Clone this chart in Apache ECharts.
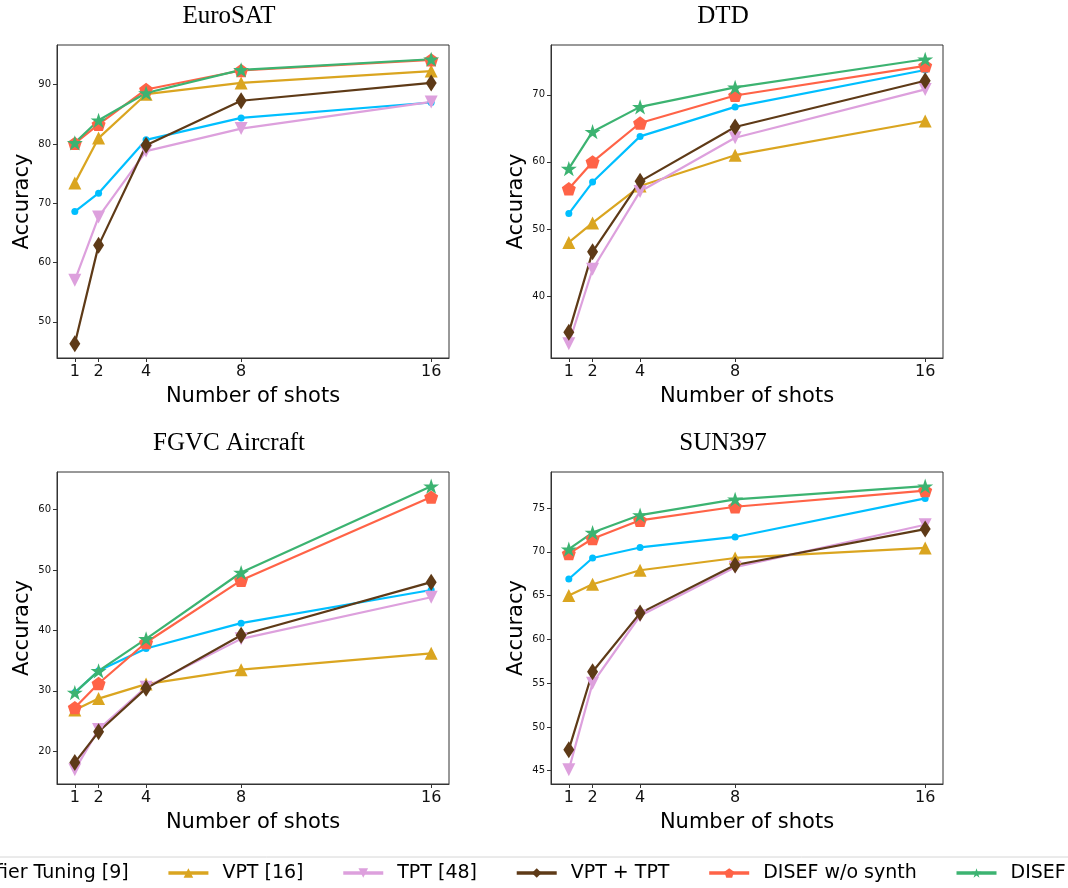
<!DOCTYPE html>
<html>
<head>
<meta charset="utf-8">
<script src="https://cdn.jsdelivr.net/npm/echarts@6/dist/echarts.min.js"></script>
<style>
html,body{margin:0;padding:0;background:#fff;}
#chart{width:1068px;height:888px;}
</style>
</head>
<body>
<div id="chart"></div>
<script>
// ---------- data ----------
const shots = [1, 2, 4, 8, 16];
const xTicks = [1, 2, 4, 8, 16];
const methodNames = ['Classifier Tuning [9]', 'VPT [16]', 'TPT [48]', 'VPT + TPT', 'DISEF w/o synth', 'DISEF'];
const panelTitles = ['EuroSAT', 'DTD', 'FGVC Aircraft', 'SUN397'];

// EuroSAT
const eurosatClf    = [68.6, 71.7, 80.7, 84.4, 87.0];
const eurosatVpt    = [73.4, 81.0, 88.4, 90.3, 92.3];
const eurosatTpt    = [57.0, 67.7, 78.8, 82.6, 87.1];
const eurosatVptTpt = [46.3, 62.9, 79.8, 87.3, 90.3];
const eurosatWo     = [80.1, 83.3, 89.2, 92.4, 94.2];
const eurosatDisef  = [80.2, 84.0, 88.6, 92.5, 94.3];
const eurosatYTicks = [50, 60, 70, 80, 90];

// DTD
const dtdClf    = [52.3, 57.0, 63.8, 68.2, 73.7];
const dtdVpt    = [48.0, 50.9, 56.4, 61.0, 66.1];
const dtdTpt    = [32.9, 44.0, 55.6, 63.6, 70.8];
const dtdVptTpt = [34.6, 46.6, 57.1, 65.2, 72.1];
const dtdWo     = [56.0, 60.0, 65.8, 69.9, 74.3];
const dtdDisef  = [59.0, 64.5, 68.2, 71.1, 75.3];
const dtdYTicks = [40, 50, 60, 70];

// FGVC Aircraft
const fgvcClf    = [29.7, 33.3, 37.0, 41.2, 46.7];
const fgvcVpt    = [26.8, 28.7, 31.1, 33.5, 36.2];
const fgvcTpt    = [16.9, 23.6, 30.6, 38.6, 45.5];
const fgvcVptTpt = [18.1, 23.2, 30.4, 39.2, 48.0];
const fgvcWo     = [27.2, 31.2, 38.0, 48.3, 62.1];
const fgvcDisef  = [29.7, 33.3, 38.6, 49.6, 63.9];
const fgvcYTicks = [20, 30, 40, 50, 60];

// SUN397
const sunClf    = [66.9, 69.3, 70.5, 71.7, 76.1];
const sunVpt    = [65.0, 66.3, 67.9, 69.3, 70.45];
const sunTpt    = [45.1, 55.0, 62.7, 68.25, 73.1];
const sunVptTpt = [47.4, 56.3, 63.0, 68.5, 72.6];
const sunWo     = [69.8, 71.5, 73.6, 75.15, 77.0];
const sunDisef  = [70.3, 72.2, 74.2, 76.0, 77.5];
const sunYTicks = [45, 50, 55, 60, 65, 70, 75];

const panels = [
  [eurosatClf, eurosatVpt, eurosatTpt, eurosatVptTpt, eurosatWo, eurosatDisef],
  [dtdClf, dtdVpt, dtdTpt, dtdVptTpt, dtdWo, dtdDisef],
  [fgvcClf, fgvcVpt, fgvcTpt, fgvcVptTpt, fgvcWo, fgvcDisef],
  [sunClf, sunVpt, sunTpt, sunVptTpt, sunWo, sunDisef]
];
const panelYTicks = [eurosatYTicks, dtdYTicks, fgvcYTicks, sunYTicks];

// ---------- styles ----------
const colors = ['#00BFFF', '#DAA520', '#DDA0DD', '#5E3A17', '#FF6347', '#3CB371'];
const pentagon = 'path://M0,-1L0.951,-0.309L0.588,0.809L-0.588,0.809L-0.951,-0.309Z';
const star = 'path://M0,-1L0.2245,-0.309L0.951,-0.309L0.3633,0.118L0.588,0.809L0,0.382L-0.588,0.809L-0.3633,0.118L-0.951,-0.309L-0.2245,-0.309Z';
const symbols = ['circle', 'triangle', 'triangle', 'diamond', pentagon, star];
const symbolSizes = [7, 13, 13, [11, 17], [14, 13.3], [16, 15.2]];
const symbolRotates = [0, 0, 180, 0, 0, 0];

const grids = [
  {left: 57, top: 45, width: 392, height: 313},
  {left: 551, top: 45, width: 392, height: 313},
  {left: 57, top: 472, width: 392, height: 312},
  {left: 551, top: 472, width: 392, height: 312}
];
const titlePos = [[229, 1], [723, 1], [229, 428], [723, 428]];

const sans = 'DejaVu Sans';
const option = {
  backgroundColor: '#fff',
  animation: false,
  title: panelTitles.map((t, i) => ({
    text: t, left: titlePos[i][0], top: titlePos[i][1], textAlign: 'center', padding: 0,
    textStyle: {fontFamily: 'Liberation Serif', fontSize: 25, fontWeight: 'normal', color: '#000', lineHeight: 30}
  })),
  legend: {
    data: methodNames,
    left: -123, top: 857, width: 1400,
    orient: 'horizontal',
    padding: [6, 24, 16, 8],
    itemWidth: 40, itemHeight: 12, itemGap: 38,
    borderColor: '#d6d6d6', borderWidth: 1, borderRadius: 4,
    lineStyle: {width: 3.5},
    textStyle: {fontFamily: sans, fontSize: 19, color: '#000', lineHeight: 20, padding: [0, 0, 0, 9]}
  },
  grid: grids.map(g => Object.assign({show: true, borderColor: '#333', borderWidth: 1, backgroundColor: 'transparent'}, g)),
  xAxis: grids.map((g, i) => ({
    type: 'value', gridIndex: i, min: 0.25, max: 16.75,
    splitLine: {show: false},
    axisLine: {show: true, onZero: false, lineStyle: {color: '#333'}},
    axisTick: {show: true, length: 4, customValues: xTicks, lineStyle: {color: '#333'}},
    axisLabel: {customValues: xTicks, fontFamily: sans, fontSize: 16, color: '#111', margin: 6},
    name: 'Number of shots', nameLocation: 'middle', nameGap: 28,
    nameTextStyle: {fontFamily: sans, fontSize: 21, color: '#000'}
  })),
  yAxis: panels.map((p, i) => {
    const all = [].concat(...p);
    const lo = Math.min(...all), hi = Math.max(...all);
    const pad = (hi - lo) * 0.05;
    return {
      type: 'value', gridIndex: i, min: lo - pad, max: hi + pad,
      splitLine: {show: false},
      axisLine: {show: true, lineStyle: {color: '#333'}},
      axisTick: {show: true, length: 4, customValues: panelYTicks[i], lineStyle: {color: '#333'}},
      axisLabel: {customValues: panelYTicks[i], fontFamily: sans, fontSize: 10, color: '#111', margin: 6},
      name: 'Accuracy', nameLocation: 'middle', nameGap: 24, nameRotate: 90,
      nameTextStyle: {fontFamily: sans, fontSize: 21, color: '#000'}
    };
  }),
  series: []
};

panels.forEach((p, gi) => {
  p.forEach((vals, si) => {
    option.series.push({
      type: 'line', name: methodNames[si], xAxisIndex: gi, yAxisIndex: gi,
      data: shots.map((s, k) => [s, vals[k]]),
      color: colors[si],
      lineStyle: {width: 2.2, color: colors[si]},
      itemStyle: {color: colors[si], borderWidth: 0},
      symbol: symbols[si], symbolSize: symbolSizes[si], symbolRotate: symbolRotates[si],
      showAllSymbol: true
    });
  });
});

const chart = echarts.init(document.getElementById('chart'), null, {renderer: 'canvas'});
chart.setOption(option);
</script>
</body>
</html>
